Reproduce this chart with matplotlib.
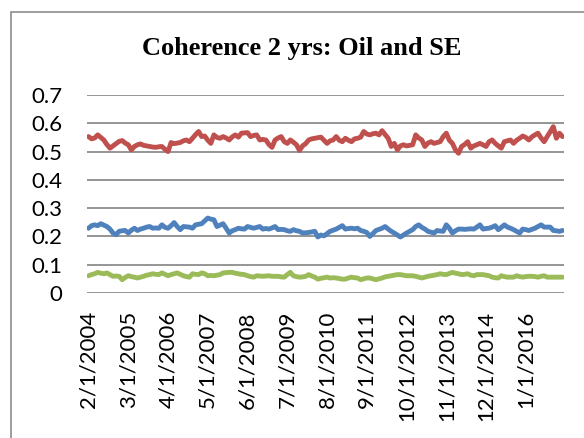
import matplotlib
matplotlib.use("Agg")
import matplotlib.pyplot as plt
from matplotlib.patches import Rectangle

tick_labels = ["2/1/2004", "3/1/2005", "4/1/2006", "5/1/2007", "6/1/2008", "7/1/2009",
               "8/1/2010", "9/1/2011", "10/1/2012", "11/1/2013", "12/1/2014", "1/1/2016"]

red = [0.553, 0.545, 0.548, 0.559, 0.550, 0.541, 0.525, 0.512, 0.520, 0.528, 0.536, 0.539,
       0.530, 0.524, 0.506, 0.518, 0.524, 0.527, 0.522, 0.520, 0.518, 0.516, 0.515, 0.517,
       0.518, 0.508, 0.500, 0.532, 0.528, 0.530, 0.532, 0.538, 0.541, 0.535, 0.547, 0.560,
       0.571, 0.553, 0.555, 0.540, 0.529, 0.559, 0.550, 0.547, 0.553, 0.548, 0.541, 0.552,
       0.559, 0.551, 0.565, 0.566, 0.567, 0.553, 0.557, 0.559, 0.541, 0.543, 0.541, 0.525,
       0.515, 0.541, 0.548, 0.553, 0.535, 0.529, 0.541, 0.533, 0.524, 0.504, 0.520, 0.528,
       0.541, 0.545, 0.547, 0.549, 0.551, 0.540, 0.529, 0.538, 0.541, 0.553, 0.540, 0.535,
       0.547, 0.540, 0.535, 0.545, 0.547, 0.551, 0.571, 0.562, 0.559, 0.563, 0.565, 0.559,
       0.574, 0.560, 0.547, 0.518, 0.529, 0.506, 0.520, 0.524, 0.520, 0.522, 0.524, 0.559,
       0.548, 0.541, 0.518, 0.530, 0.535, 0.529, 0.532, 0.535, 0.553, 0.565, 0.540, 0.529,
       0.506, 0.494, 0.518, 0.525, 0.535, 0.512, 0.520, 0.524, 0.529, 0.524, 0.518, 0.535,
       0.541, 0.529, 0.520, 0.512, 0.535, 0.538, 0.541, 0.529, 0.540, 0.547, 0.555, 0.550,
       0.541, 0.552, 0.559, 0.565, 0.548, 0.535, 0.553, 0.570, 0.588, 0.547, 0.565, 0.553]

blue = [0.229, 0.238, 0.241, 0.238, 0.245, 0.240, 0.235, 0.226, 0.212, 0.206, 0.218, 0.220,
        0.221, 0.212, 0.222, 0.229, 0.221, 0.226, 0.229, 0.233, 0.235, 0.229, 0.230, 0.229,
        0.241, 0.232, 0.229, 0.238, 0.249, 0.235, 0.224, 0.235, 0.234, 0.233, 0.229, 0.241,
        0.243, 0.245, 0.255, 0.265, 0.261, 0.259, 0.235, 0.240, 0.245, 0.229, 0.212, 0.220,
        0.224, 0.229, 0.227, 0.226, 0.235, 0.232, 0.229, 0.232, 0.235, 0.226, 0.228, 0.226,
        0.230, 0.235, 0.224, 0.225, 0.224, 0.220, 0.218, 0.224, 0.220, 0.218, 0.212, 0.213,
        0.214, 0.216, 0.218, 0.198, 0.205, 0.202, 0.210, 0.218, 0.222, 0.226, 0.232, 0.238,
        0.226, 0.228, 0.229, 0.227, 0.229, 0.221, 0.218, 0.214, 0.200, 0.210, 0.221, 0.225,
        0.229, 0.235, 0.226, 0.218, 0.212, 0.205, 0.198, 0.205, 0.212, 0.218, 0.224, 0.235,
        0.241, 0.232, 0.226, 0.218, 0.215, 0.212, 0.221, 0.219, 0.218, 0.241, 0.229, 0.212,
        0.220, 0.226, 0.226, 0.225, 0.226, 0.227, 0.226, 0.233, 0.241, 0.226, 0.228, 0.229,
        0.233, 0.238, 0.224, 0.232, 0.241, 0.233, 0.229, 0.224, 0.218, 0.212, 0.226, 0.224,
        0.221, 0.225, 0.229, 0.235, 0.241, 0.233, 0.233, 0.233, 0.221, 0.220, 0.218, 0.221]

green = [0.061, 0.065, 0.068, 0.073, 0.070, 0.068, 0.071, 0.065, 0.059, 0.060, 0.059, 0.047,
         0.055, 0.061, 0.058, 0.056, 0.053, 0.056, 0.059, 0.063, 0.065, 0.068, 0.066, 0.065,
         0.071, 0.066, 0.061, 0.065, 0.068, 0.071, 0.066, 0.061, 0.058, 0.056, 0.068, 0.066,
         0.065, 0.071, 0.068, 0.061, 0.062, 0.061, 0.063, 0.065, 0.071, 0.072, 0.073, 0.073,
         0.070, 0.068, 0.066, 0.065, 0.061, 0.058, 0.056, 0.061, 0.060, 0.059, 0.060, 0.061,
         0.059, 0.059, 0.059, 0.057, 0.056, 0.065, 0.073, 0.061, 0.058, 0.056, 0.057, 0.059,
         0.065, 0.060, 0.056, 0.049, 0.052, 0.054, 0.056, 0.053, 0.054, 0.053, 0.051, 0.049,
         0.049, 0.053, 0.056, 0.054, 0.053, 0.047, 0.050, 0.053, 0.053, 0.050, 0.047, 0.050,
         0.053, 0.057, 0.059, 0.061, 0.063, 0.065, 0.065, 0.063, 0.061, 0.061, 0.061, 0.059,
         0.056, 0.053, 0.056, 0.059, 0.061, 0.063, 0.065, 0.068, 0.066, 0.065, 0.069, 0.073,
         0.070, 0.068, 0.065, 0.066, 0.068, 0.063, 0.061, 0.065, 0.065, 0.065, 0.063, 0.061,
         0.056, 0.054, 0.053, 0.061, 0.058, 0.056, 0.056, 0.056, 0.061, 0.058, 0.056, 0.058,
         0.059, 0.059, 0.058, 0.056, 0.059, 0.061, 0.056, 0.056, 0.056, 0.056, 0.056, 0.056]

y_ticks = [0, 0.1, 0.2, 0.3, 0.4, 0.5, 0.6, 0.7]
y_tick_labels = ["0", "0.1", "0.2", "0.3", "0.4", "0.5", "0.6", "0.7"]

W, H = 584, 438
fig = plt.figure(figsize=(W / 100, H / 100), dpi=100)

# chart border
fig.patches.append(Rectangle((11 / W, -0.1), 1.2, 1 - 12 / H + 0.1, transform=fig.transFigure,
                             fill=False, edgecolor="#8c8c8c", linewidth=1.2))

ax = fig.add_axes([87 / W, 1 - 293 / H, (564 - 87) / W, (293 - 95) / H])
x = list(range(len(red)))
for series, col in ((red, "#C0504D"), (blue, "#4F81BD"), (green, "#9BBB59")):
    ax.plot(x, series, color=col, lw=3.5, solid_joinstyle="round", solid_capstyle="round")

ax.set_xlim(-0.5, len(red) - 0.5)
ax.set_ylim(0, 0.7)
ax.set_yticks(y_ticks)
ax.set_yticklabels(y_tick_labels)
ax.set_xticks(list(range(0, len(red), 13))[:len(tick_labels)])
ax.set_xticklabels(tick_labels, rotation=90, va="top", ha="center")
ax.grid(axis="y", color="#8c8c8c", lw=1.3)
ax.set_axisbelow(True)
for s in ax.spines.values():
    s.set_visible(False)
ax.tick_params(axis="both", length=0, labelsize=16)
ax.tick_params(axis="y", pad=18)
ax.tick_params(axis="x", pad=13)
for lab in ax.get_xticklabels() + ax.get_yticklabels():
    lab.set_fontfamily("Lato")

fig.text(302 / W, 1 - 48 / H, "Coherence 2 yrs: Oil and SE", ha="center", va="center",
         fontfamily="Liberation Serif", fontweight="bold", fontsize=19)

fig.savefig("out.png", dpi=100)
